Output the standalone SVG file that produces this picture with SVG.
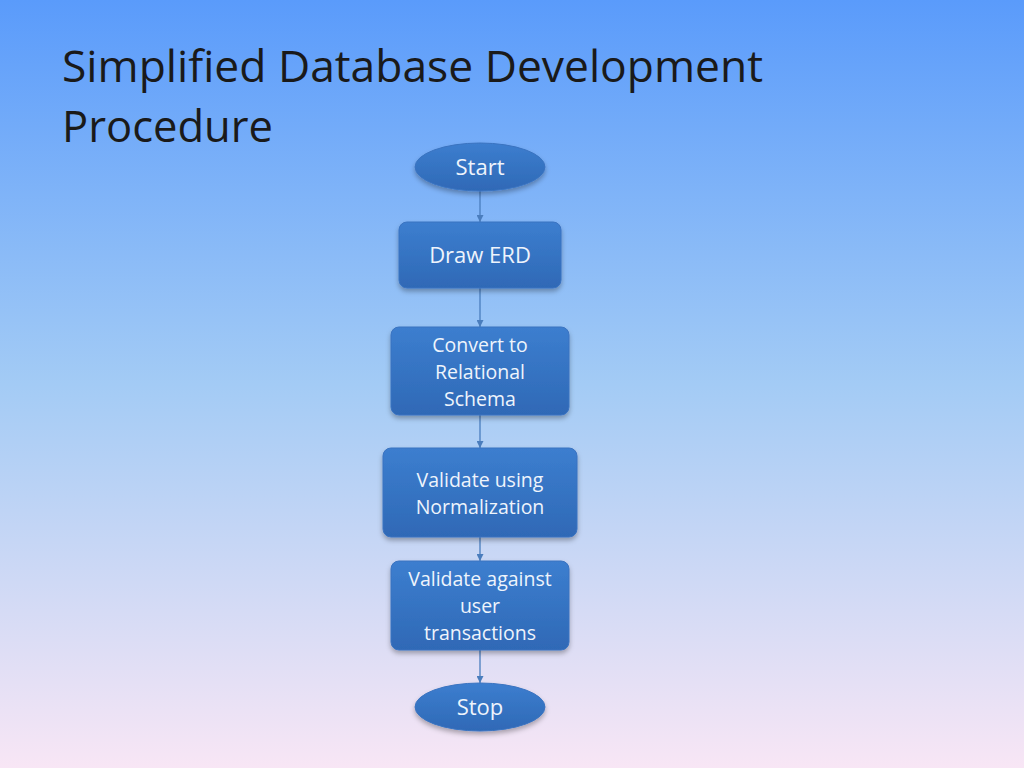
<svg xmlns="http://www.w3.org/2000/svg" width="1024" height="768" viewBox="0 0 1024 768">
<defs>
<linearGradient id="bg" x1="0" y1="0" x2="0" y2="1">
<stop offset="0" stop-color="#5a9bfb"/>
<stop offset="0.5" stop-color="#a3cbf5"/>
<stop offset="1" stop-color="#f8e6f5"/>
</linearGradient>
<linearGradient id="nf" x1="0" y1="0" x2="0" y2="1">
<stop offset="0" stop-color="#3c7ecf"/>
<stop offset="1" stop-color="#2f69b6"/>
</linearGradient>
<filter id="sh" x="-20%" y="-20%" width="140%" height="150%">
<feDropShadow dx="0" dy="3" stdDeviation="2.5" flood-color="#000" flood-opacity="0.3"/>
</filter>
<marker id="ah" viewBox="0 0 10 10" refX="10" refY="5" markerWidth="7" markerHeight="7" markerUnits="userSpaceOnUse" orient="auto">
<path d="M0,0 L10,5 L0,10 z" fill="#4a7dbd"/>
</marker>
<style>
.node{fill:url(#nf);stroke:#3a73c0;stroke-width:1;filter:url(#sh)}
.t{font-family:"Open Sans","Noto Sans",sans-serif;font-size:19.5px;fill:#eef4fc;text-anchor:middle}
.big{font-size:22px}
.title{font-family:"Open Sans","Noto Sans",sans-serif;font-size:44px;fill:#1a1a1a}
.c{stroke:#4a7dbd;stroke-width:1.3;fill:none;marker-end:url(#ah)}
</style>
</defs>
<rect width="1024" height="768" fill="url(#bg)"/>
<text class="title" x="62" y="82" textLength="701" lengthAdjust="spacingAndGlyphs">Simplified Database Development</text>
<text class="title" x="62" y="142" textLength="211" lengthAdjust="spacingAndGlyphs">Procedure</text>
<g id="connectors">
<line class="c" x1="480" y1="191" x2="480" y2="222"/>
<line class="c" x1="480" y1="288" x2="480" y2="327"/>
<line class="c" x1="480" y1="415" x2="480" y2="448"/>
<line class="c" x1="480" y1="537" x2="480" y2="561"/>
<line class="c" x1="480" y1="650" x2="480" y2="683"/>
</g>
<g id="start">
<ellipse class="node" cx="480" cy="167" rx="65" ry="24"/>
<text class="t big" x="480" y="175">Start</text>
</g>
<g id="draw-erd">
<rect class="node" x="399" y="222" width="162" height="66" rx="8"/>
<text class="t big" x="480" y="263">Draw ERD</text>
</g>
<g id="convert">
<rect class="node" x="391" y="327" width="178" height="88" rx="8"/>
<text class="t" x="480" y="352">Convert to</text>
<text class="t" x="480" y="379">Relational</text>
<text class="t" x="480" y="406">Schema</text>
</g>
<g id="validate-norm">
<rect class="node" x="383" y="448" width="194" height="89" rx="8"/>
<text class="t" x="480" y="487">Validate using</text>
<text class="t" x="480" y="514">Normalization</text>
</g>
<g id="validate-trans">
<rect class="node" x="391" y="561" width="178" height="89" rx="8"/>
<text class="t" x="480" y="586">Validate against</text>
<text class="t" x="480" y="613">user</text>
<text class="t" x="480" y="640">transactions</text>
</g>
<g id="stop">
<ellipse class="node" cx="480" cy="707" rx="65" ry="24"/>
<text class="t big" x="480" y="715">Stop</text>
</g>
</svg>
